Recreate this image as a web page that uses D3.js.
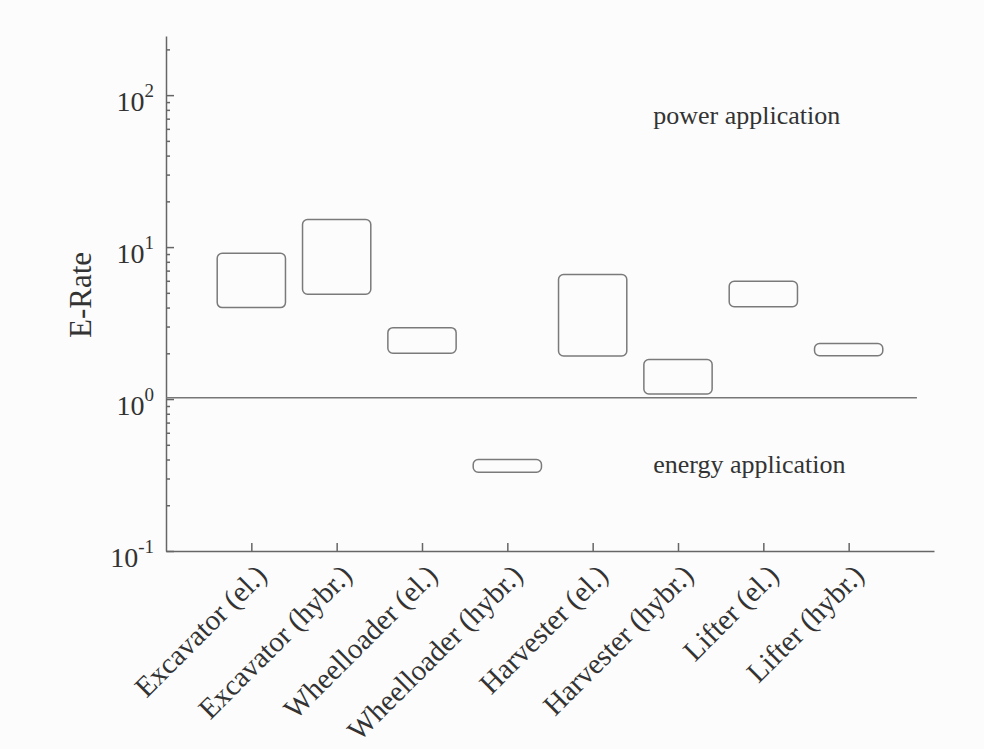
<!DOCTYPE html>
<html>
<head>
<meta charset="utf-8">
<script src="https://cdn.jsdelivr.net/npm/d3@7"></script>
<style>
  body { margin: 0; background: #fcfcfc; }
  text { font-family: "Liberation Serif", "DejaVu Serif", serif; fill: #333; }
</style>
</head>
<body>
<div id="container"></div>
<script>
// categories and E-Rate ranges (low, high)
let machines = ["Excavator (el.)", "Excavator (hybr.)", "Wheelloader (el.)", "Wheelloader (hybr.)",
                "Harvester (el.)", "Harvester (hybr.)", "Lifter (el.)", "Lifter (hybr.)"];
let lowRate  = [4.0, 4.9, 2.0, 0.33, 1.92, 1.08, 4.05, 1.93];
let highRate = [9.1, 15.2, 2.95, 0.40, 6.6, 1.82, 5.95, 2.32];
let yTicksMajor = [0.1, 1, 10, 100];
let yTickExp = ["-1", "0", "1", "2"];
let boundaryValue = 1.02;

let w = 984;
let h = 749;

let svg = d3.select("#container")
          .append("svg")
          .attr("width", w)
          .attr("height", h)
          .style("background-color", "#fcfcfc");

// x: categories sit at positions 1..8, axis runs 0..9
let xScale = d3.scaleLinear().domain([0, 9]).range([166, 934]);
let yScale = d3.scaleLog().domain([0.1, 245]).range([551, 36]);
let step = xScale(1) - xScale(0);

let axisColor = "#666";

// y axis (ticks point inward)
let yAxis = d3.axisLeft(yScale)
      .tickValues(yScale.ticks())
      .tickSizeInner(-4)
      .tickSizeOuter(0)
      .tickFormat("");
let yAxisGroup = svg.append("g")
      .attr("transform", "translate(" + xScale(0) + ",0)")
      .call(yAxis);
yAxisGroup.selectAll(".tick line")
      .attr("x2", d => yTicksMajor.some(m => Math.abs(m - d) < 1e-9) ? 8 : 4);
yAxisGroup.selectAll("path, line").attr("stroke", axisColor).attr("stroke-width", 1.5);

// y tick labels: 10 with superscript exponent
yTicksMajor.forEach((v, i) => {
  let t = svg.append("text")
        .attr("x", 154)
        .attr("y", yScale(v) + 16)
        .attr("text-anchor", "end")
        .style("font-size", "28px");
  t.append("tspan").text("10");
  t.append("tspan").text(yTickExp[i])
        .attr("dy", -14)
        .style("font-size", "19px");
});

// x axis (ticks point upward)
let xAxis = d3.axisBottom(xScale)
      .tickValues(d3.range(1, machines.length + 1))
      .tickSizeInner(-8)
      .tickSizeOuter(0)
      .tickFormat("");
let xAxisGroup = svg.append("g")
      .attr("transform", "translate(0," + yScale(0.1) + ")")
      .call(xAxis);
xAxisGroup.selectAll("path, line").attr("stroke", axisColor).attr("stroke-width", 1.5);

// rotated category labels
svg.selectAll(".xlabel")
   .data(machines)
   .enter()
   .append("text")
   .attr("class", "xlabel")
   .attr("text-anchor", "end")
   .style("font-size", "29px")
   .attr("transform", (d, i) => {
     let x = xScale(i + 1) + 17;
     let y = yScale(0.1) + 26;
     return "translate(" + x + "," + y + ") rotate(-45)";
   })
   .text(d => d);

// y axis title
svg.append("text")
   .attr("transform", "translate(91,295) rotate(-90)")
   .attr("text-anchor", "middle")
   .style("font-size", "31px")
   .text("E-Rate");

// boundary between energy and power application
svg.append("line")
   .attr("x1", xScale(0))
   .attr("x2", xScale(8.8))
   .attr("y1", yScale(boundaryValue))
   .attr("y2", yScale(boundaryValue))
   .attr("stroke", "#777")
   .attr("stroke-width", 1.5);

// range boxes
svg.selectAll(".rangeBox")
   .data(machines)
   .enter()
   .append("rect")
   .attr("class", "rangeBox")
   .attr("x", (d, i) => xScale(i + 1) - step * 0.4)
   .attr("width", step * 0.8)
   .attr("y", (d, i) => yScale(highRate[i]))
   .attr("height", (d, i) => yScale(lowRate[i]) - yScale(highRate[i]))
   .attr("rx", 5)
   .attr("fill", "none")
   .attr("stroke", "#7a7a7a")
   .attr("stroke-width", 1.5);

// annotations
svg.append("text")
   .attr("x", xScale(5.71))
   .attr("y", yScale(64.5))
   .style("font-size", "26px")
   .text("power application");
svg.append("text")
   .attr("x", xScale(5.71))
   .attr("y", yScale(0.326))
   .style("font-size", "26px")
   .text("energy application");
</script>
</body>
</html>
